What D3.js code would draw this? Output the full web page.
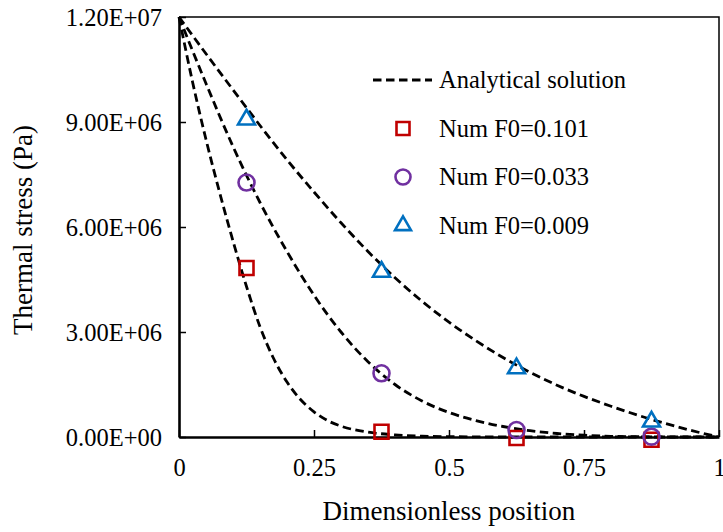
<!DOCTYPE html>
<html>
<head>
<meta charset="utf-8">
<script src="https://cdn.jsdelivr.net/npm/d3@7"></script>
<style>
  body { margin: 0; background: #fff; }
</style>
</head>
<body>
<div id="container"></div>
<script>
// analytical curves (stress in Pa)
const xA = [0, 0.025, 0.05, 0.075, 0.1, 0.125, 0.15, 0.175, 0.2, 0.225, 0.25, 0.275, 0.3, 0.35, 0.4, 0.45, 0.5, 0.6, 0.7, 0.8, 0.9, 1]
const yA = [12.0, 10.15, 8.5, 7.0, 5.6, 4.3, 3.15, 2.25, 1.57, 1.07, 0.72, 0.47, 0.31, 0.14, 0.06, 0.025, 0.01, 0, 0, 0, 0, 0].map(v => v * 1e6)

const xB = [0, 0.05, 0.1, 0.15, 0.2, 0.25, 0.3, 0.35, 0.4, 0.45, 0.5, 0.55, 0.6, 0.65, 0.7, 0.75, 0.8, 0.85, 0.9, 0.95, 1]
const yB = [12.0, 10.1, 8.3, 6.7, 5.3, 4.05, 3.0, 2.15, 1.5, 1.03, 0.7, 0.47, 0.3, 0.18, 0.1, 0.05, 0.02, 0.01, 0, 0, 0].map(v => v * 1e6)

const xC = [0, 0.05, 0.1, 0.15, 0.2, 0.25, 0.3, 0.35, 0.4, 0.45, 0.5, 0.55, 0.6, 0.65, 0.7, 0.75, 0.8, 0.85, 0.9, 0.95, 1]
const yC = [12.0, 10.95, 9.92, 8.9, 7.92, 7.0, 6.12, 5.3, 4.55, 3.88, 3.28, 2.75, 2.27, 1.85, 1.48, 1.16, 0.88, 0.62, 0.39, 0.18, 0].map(v => v * 1e6)

// numerical points
const xNum = [0.125, 0.375, 0.625, 0.875]
const numF0101 = [4.83e6, 0.15e6, -0.03e6, -0.08e6]
const numF0033 = [7.27e6, 1.82e6, 0.2e6, 0.01e6]
const numF0009 = [9.07e6, 4.72e6, 1.96e6, 0.44e6]

const xTicks = [0, 0.25, 0.5, 0.75, 1]
const yTicks = [0, 3e6, 6e6, 9e6, 1.2e7]

const legendLabels = ["Analytical solution", "Num F0=0.101", "Num F0=0.033", "Num F0=0.009"]
const xTitle = "Dimensionless position"
const yTitle = "Thermal stress (Pa)"

const width = 723
const height = 532
const mLeft = 179, mRight = 719, mTop = 17, mBottom = 437
const fonte = "'Liberation Serif', 'Times New Roman', serif"

const cores = { sq: "#C00000", ci: "#7030A0", tri: "#0070C0" }

const x = d3.scaleLinear().domain([0, 1]).range([mLeft, mRight])
const y = d3.scaleLinear().domain([0, 1.2e7]).range([mBottom, mTop])

// 1.20E+07 style
const sciFmt = (v) => {
  const s = d3.format(".2e")(v).split("e")
  const ex = +s[1]
  return s[0] + "E" + (ex < 0 ? "-" : "+") + String(Math.abs(ex)).padStart(2, "0")
}

const svg = d3.create("svg")
  .attr("width", width)
  .attr("height", height)
  .attr("viewBox", [0, 0, width, height])
  .attr("font-family", fonte)

// frame top/right
svg.append("path")
  .attr("d", `M${mLeft},${mTop}H${mRight}V${mBottom}`)
  .attr("fill", "none")
  .attr("stroke", "#000")
  .attr("stroke-width", 1.5)

// x axis
const gx = svg.append("g")
  .attr("transform", `translate(0,${mBottom})`)
  .call(d3.axisBottom(x).tickValues(xTicks).tickSizeInner(-7).tickSizeOuter(0).tickPadding(22).tickFormat(d3.format("")))
gx.attr("font-family", fonte)
gx.select(".domain").attr("stroke-width", 2.6)
gx.selectAll(".tick line").attr("stroke-width", 1.5)
gx.selectAll(".tick text").attr("font-size", 24.5).attr("font-family", fonte)

// y axis
const gy = svg.append("g")
  .attr("transform", `translate(${mLeft},0)`)
  .call(d3.axisLeft(y).tickValues(yTicks).tickSizeInner(-7).tickSizeOuter(0).tickPadding(17).tickFormat(sciFmt))
gy.attr("font-family", fonte)
gy.select(".domain").attr("stroke-width", 2.6)
gy.selectAll(".tick line").attr("stroke-width", 1.5)
gy.selectAll(".tick text").attr("font-size", 24.5).attr("font-family", fonte).attr("dy", "0.36em")

// titles
svg.append("text")
  .attr("x", (mLeft + mRight) / 2)
  .attr("y", 520)
  .attr("text-anchor", "middle")
  .attr("font-family", fonte)
  .attr("font-size", 27)
  .text(xTitle)

svg.append("text")
  .attr("transform", `translate(32,${(mTop + mBottom) / 2 + 3}) rotate(-90)`)
  .attr("text-anchor", "middle")
  .attr("font-family", fonte)
  .attr("font-size", 27)
  .text(yTitle)

// analytical curves
const linha = d3.line().x(d => x(d[0])).y(d => y(d[1])).curve(d3.curveMonotoneX)
const curvas = [d3.zip(xA, yA), d3.zip(xB, yB), d3.zip(xC, yC)]
svg.append("g")
  .selectAll("path")
  .data(curvas)
  .join("path")
  .attr("d", linha)
  .attr("fill", "none")
  .attr("stroke", "#000")
  .attr("stroke-width", 2.8)
  .attr("stroke-dasharray", "8.5,4.5")

// markers
const series = [
  { vals: numF0101, sym: d3.symbolSquare, size: 196, cor: cores.sq },
  { vals: numF0033, sym: d3.symbolCircle, size: 201, cor: cores.ci },
  { vals: numF0009, sym: d3.symbolTriangle, size: 125, cor: cores.tri }
]
series.forEach((s) => {
  svg.append("g")
    .selectAll("path")
    .data(d3.zip(xNum, s.vals))
    .join("path")
    .attr("transform", d => `translate(${x(d[0])},${y(d[1])})`)
    .attr("d", d3.symbol(s.sym, s.size))
    .attr("fill", "none")
    .attr("stroke", s.cor)
    .attr("stroke-width", 2.6)
})

// legend
const leg = svg.append("g")
const rowY = [80, 128.5, 177, 225.5]
leg.append("line")
  .attr("x1", 373).attr("x2", 432)
  .attr("y1", rowY[0]).attr("y2", rowY[0])
  .attr("stroke", "#000")
  .attr("stroke-width", 2.8)
  .attr("stroke-dasharray", "8.5,4.5")
const legSizes = [169, 177, 110]
series.forEach((s, i) => {
  leg.append("path")
    .attr("transform", `translate(403,${rowY[i + 1]})`)
    .attr("d", d3.symbol(s.sym, legSizes[i]))
    .attr("fill", "none")
    .attr("stroke", s.cor)
    .attr("stroke-width", 2.6)
})
leg.selectAll("text")
  .data(legendLabels)
  .join("text")
  .attr("x", 439)
  .attr("y", (d, i) => rowY[i])
  .attr("dy", "0.33em")
  .attr("font-family", fonte)
  .attr("font-size", 24.5)
  .text(d => d)

container.append(svg.node())
</script>
</body>
</html>
